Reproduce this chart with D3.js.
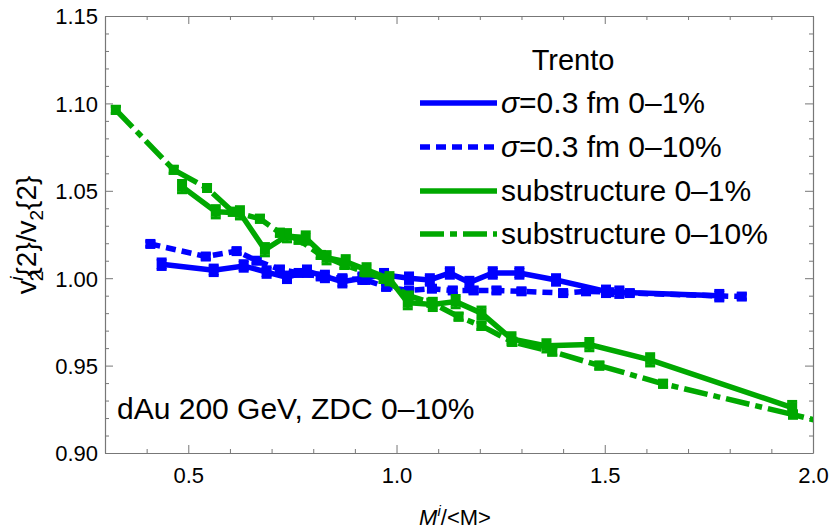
<!DOCTYPE html>
<html><head><meta charset="utf-8">
<script src="https://cdn.jsdelivr.net/npm/d3@7"></script>
<style>body{margin:0;background:#fff}svg{display:block;font-family:"Liberation Sans",Arial,sans-serif}</style>
</head><body><svg id="c" width="830" height="532"></svg>
<script>
const blueSolidX = [0.436, 0.561, 0.633, 0.688, 0.737, 0.785, 0.828, 0.870, 0.918, 0.970, 1.030, 1.080, 1.128, 1.175, 1.231, 1.295, 1.383, 1.503, 1.535, 1.775];
const blueSolidY = [1.008, 1.0045, 1.007, 1.0035, 1.0005, 1.004, 1.001, 0.998, 1.000, 1.002, 1.000, 0.999, 1.003, 0.9975, 1.003, 1.003, 0.999, 0.9925, 0.992, 0.990];
const blueDotX = [0.409, 0.542, 0.616, 0.664, 0.720, 0.765, 0.818, 0.870, 0.925, 0.975, 1.030, 1.085, 1.135, 1.185, 1.240, 1.300, 1.400, 1.455, 1.510, 1.560, 1.829];
const blueDotY = [1.0196, 1.0124, 1.0155, 1.010, 1.005, 1.003, 1.001, 1.000, 0.999, 0.995, 0.993, 0.994, 0.993, 0.993, 0.993, 0.9925, 0.9915, 0.9925, 0.992, 0.9915, 0.9895];
const greenSolidX = [0.485, 0.566, 0.624, 0.684, 0.737, 0.782, 0.832, 0.878, 0.928, 0.983, 1.027, 1.087, 1.142, 1.204, 1.276, 1.360, 1.463, 1.609, 1.950];
const greenSolidY = [1.0524, 1.038, 1.0374, 1.0163, 1.0243, 1.023, 1.0117, 1.0094, 1.0048, 0.9997, 0.986, 0.985, 0.9866, 0.980, 0.9653, 0.9613, 0.962, 0.9533, 0.926];
const greenDashX = [0.326, 0.465, 0.545, 0.607, 0.672, 0.720, 0.765, 0.818, 0.875, 0.923, 0.969, 1.029, 1.084, 1.149, 1.204, 1.278, 1.374, 1.487, 1.640, 1.952, 2.06];
const greenDashY = [1.0963, 1.062, 1.0516, 1.038, 1.034, 1.026, 1.022, 1.0133, 1.0076, 1.0036, 0.9996, 0.990, 0.986, 0.978, 0.9727, 0.9636, 0.958, 0.950, 0.9396, 0.922, 0.9155];
const errBlueSolid = 0.003, errBlueDot = 0.0015, errGreenSolid = 0.0035, errGreenDash = 0.002;
const yTicks = [0.90, 0.95, 1.00, 1.05, 1.10, 1.15];
const xTicks = [0.5, 1.0, 1.5, 2.0];
const legendLabels = ["σ=0.3 fm 0–1%", "σ=0.3 fm 0–10%", "substructure 0–1%", "substructure 0–10%"];

const BLUE = "#0000ff", GREEN = "#00a800";
const svg = d3.select("#c");
const L = 105, R = 813, T = 16, B = 453;
const x = d3.scaleLinear().domain([0.3, 2.0]).range([L, R]);
const y = d3.scaleLinear().domain([0.90, 1.15]).range([B, T]);

svg.append("defs").append("clipPath").attr("id", "clip")
  .append("rect").attr("x", L).attr("y", T).attr("width", R - L).attr("height", B - T);

const axisColor = "#777";
function styleAxis(g) {
  g.select(".domain").attr("stroke", axisColor).attr("stroke-width", 1.2);
  g.selectAll(".tick line").attr("stroke", axisColor);
}
const minorX = d3.range(0.3, 2.001, 0.1).map(v => +v.toFixed(2));
const minorY = d3.range(0.90, 1.1501, 0.01).map(v => +v.toFixed(2));
const isMajX = v => xTicks.some(t => Math.abs(t - v) < 1e-6);
const isMajY = v => yTicks.some(t => Math.abs(t - v) < 1e-6);

// bottom
const gB = svg.append("g").attr("transform", `translate(0,${B})`)
  .call(d3.axisBottom(x).tickValues(minorX).tickSizeOuter(0).tickFormat(""));
gB.selectAll(".tick line").attr("y2", d => isMajX(d) ? -8 : -4);
styleAxis(gB);
gB.selectAll(".tick").filter(d => isMajX(d)).append("text")
  .attr("y", 30).attr("fill", "#000").attr("font-size", 22).attr("text-anchor", "middle")
  .text(d => d3.format(".1f")(d));
// top
const gT = svg.append("g").attr("transform", `translate(0,${T})`)
  .call(d3.axisTop(x).tickValues(minorX).tickSizeOuter(0).tickFormat(""));
gT.selectAll(".tick line").attr("y2", d => isMajX(d) ? 8 : 4);
styleAxis(gT);
// left
const gL = svg.append("g").attr("transform", `translate(${L},0)`)
  .call(d3.axisLeft(y).tickValues(minorY).tickSizeOuter(0).tickFormat(""));
gL.selectAll(".tick line").attr("x2", d => isMajY(d) ? 8 : 4);
styleAxis(gL);
gL.selectAll(".tick").filter(d => isMajY(d)).append("text")
  .attr("x", -7).attr("dy", "0.36em").attr("fill", "#000").attr("font-size", 22).attr("text-anchor", "end")
  .text(d => d3.format(".2f")(d));
// right
const gR = svg.append("g").attr("transform", `translate(${R},0)`)
  .call(d3.axisRight(y).tickValues(minorY).tickSizeOuter(0).tickFormat(""));
gR.selectAll(".tick line").attr("x2", d => isMajY(d) ? -8 : -4);
styleAxis(gR);

// series
const series = [
  {xs: blueSolidX, ys: blueSolidY, err: errBlueSolid, color: BLUE, dash: null},
  {xs: blueDotX, ys: blueDotY, err: errBlueDot, color: BLUE, dash: "10,6"},
  {xs: greenSolidX, ys: greenSolidY, err: errGreenSolid, color: GREEN, dash: null},
  {xs: greenDashX, ys: greenDashY, err: errGreenDash, color: GREEN, dash: "24,6,7,6"}
];
const plot = svg.append("g").attr("clip-path", "url(#clip)");
const line = d3.line().x(d => x(d[0])).y(d => y(d[1]));
series.forEach(s => {
  const pts = s.xs.map((v, i) => [v, s.ys[i]]);
  plot.append("path").datum(pts).attr("d", line).attr("fill", "none")
    .attr("stroke", s.color).attr("stroke-width", 5.5)
    .attr("stroke-dasharray", s.dash);
  const g = plot.append("g");
  pts.forEach(p => {
    const cx = x(p[0]), cy = y(p[1]);
    const y1 = y(p[1] + s.err), y2 = y(p[1] - s.err);
    g.append("line").attr("x1", cx).attr("x2", cx).attr("y1", y1).attr("y2", y2)
      .attr("stroke", s.color).attr("stroke-width", 3);
    [y1, y2].forEach(yy => g.append("line").attr("x1", cx - 5).attr("x2", cx + 5)
      .attr("y1", yy).attr("y2", yy).attr("stroke", s.color).attr("stroke-width", 3));
    g.append("rect").attr("x", cx - 5).attr("y", cy - 5).attr("width", 10).attr("height", 10)
      .attr("fill", s.color);
  });
});

// legend
svg.append("text").attr("x", 573).attr("y", 70).attr("text-anchor", "middle")
  .attr("font-size", 29).text("Trento");
const legY = [103, 147, 191, 234];
series.forEach((s, i) => {
  svg.append("line").attr("x1", 420).attr("x2", 497).attr("y1", legY[i]).attr("y2", legY[i])
    .attr("stroke", s.color).attr("stroke-width", 5.5).attr("stroke-dasharray", s.dash);
  const t = svg.append("text").attr("x", 501).attr("y", legY[i] + 10).attr("font-size", 30);
  const lab = legendLabels[i];
  if (lab.startsWith("σ")) {
    t.append("tspan").attr("font-style", "italic").text("σ");
    t.append("tspan").text(lab.slice(1));
  } else t.text(lab);
});

// annotation
svg.append("text").attr("x", 117).attr("y", 419).attr("font-size", 30).text("dAu 200 GeV, ZDC 0–10%");

// axis labels
const xl = svg.append("text").attr("x", 455).attr("y", 525).attr("text-anchor", "middle").attr("font-size", 22);
xl.append("tspan").attr("font-style", "italic").text("M");
xl.append("tspan").attr("font-style", "italic").attr("font-size", 15).attr("dy", -9).text("i");
xl.append("tspan").attr("dy", 9).text("/<M>");

const yl = svg.append("text").attr("transform", "translate(36,235) rotate(-90)")
  .attr("text-anchor", "middle").attr("font-size", 28);
yl.append("tspan").text("v");
yl.append("tspan").attr("font-size", 19).attr("dy", 7).attr("dx", -1).text("2");
yl.append("tspan").attr("font-size", 19).attr("font-style", "italic").attr("dy", -20).attr("dx", -10).text("i");
yl.append("tspan").attr("dy", 13).text("{2}/v");
yl.append("tspan").attr("font-size", 19).attr("dy", 7).text("2");
yl.append("tspan").attr("dy", -7).text("{2}");
</script></body></html>
